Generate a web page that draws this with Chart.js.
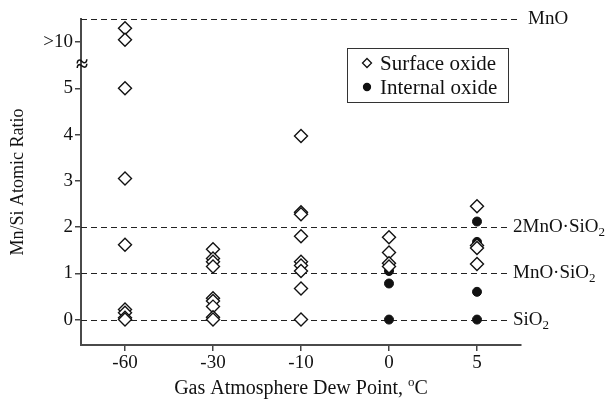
<!DOCTYPE html>
<html>
<head>
<meta charset="utf-8">
<script src="https://cdn.jsdelivr.net/npm/chart.js@4.4.0/dist/chart.umd.min.js"></script>
<style>
  html, body { margin: 0; padding: 0; background: #fff; }
  #wrap { width: 611px; height: 415px; }
</style>
</head>
<body>
<div id="wrap"><canvas id="chartCanvas"></canvas></div>
<script>
const dewPoints = ['-60', '-30', '-10', '0', '5'];

// broken y axis: 6 on the axis stands for ">10"
const surfaceDew = [
  '-60', '-60', '-60', '-60', '-60', '-60', '-60', '-60', '-60',
  '-30', '-30', '-30', '-30', '-30', '-30', '-30', '-30', '-30',
  '-10', '-10', '-10', '-10', '-10', '-10', '-10', '-10', '-10',
  '0', '0', '0', '0',
  '5', '5', '5', '5'
];
const surfaceRatio = [
  6.3, 6.05, 5.0, 3.05, 1.62, 0.22, 0.15, 0.04, 0.0,
  1.52, 1.32, 1.25, 1.15, 0.46, 0.40, 0.28, 0.05, 0.0,
  3.97, 2.32, 2.28, 1.8, 1.25, 1.17, 1.05, 0.67, 0.0,
  1.78, 1.45, 1.22, 1.15,
  2.45, 1.6, 1.55, 1.2
];

const internalDew = ['0', '0', '0', '5', '5', '5', '5'];
const internalRatio = [1.05, 0.78, 0.0, 2.12, 1.68, 0.6, 0.0];

const yTicks = [0, 1, 2, 3, 4, 5, 6];
const yTickLabels = ['0', '1', '2', '3', '4', '5', '>10'];

// reference compositions (dashed lines), 6.5 = MnO at the top of the axis
const refValues = [6.5, 2, 1, 0];
const refText = ['MnO', '2MnO\u00b7SiO', 'MnO\u00b7SiO', 'SiO'];
const refSub = ['', '2', '2', '2'];

const seriesNames = ['Surface oxide', 'Internal oxide'];

const serif = "'Liberation Serif', 'Times New Roman', serif";

function toPoints(xs, ys) {
  return xs.map((x, i) => ({ x: x, y: ys[i] }));
}

function textWithSub(ctx, main, sub, x, y, size) {
  ctx.font = size + 'px ' + serif;
  ctx.textAlign = 'left';
  ctx.textBaseline = 'middle';
  ctx.fillText(main, x, y);
  if (sub) {
    const w = ctx.measureText(main).width;
    ctx.font = Math.round(size * 0.7) + 'px ' + serif;
    ctx.fillText(sub, x + w, y + size * 0.3);
  }
}

const extras = {
  id: 'extras',
  beforeDatasetsDraw(chart) {
    const ctx = chart.ctx;
    const area = chart.chartArea;
    const y = chart.scales.y;
    ctx.save();
    ctx.strokeStyle = '#222';
    ctx.lineWidth = 1.2;
    ctx.setLineDash([6, 4]);
    refValues.forEach((v, i) => {
      const py = Math.round(y.getPixelForValue(v)) + 0.5;
      const end = i === 0 ? area.right : area.right - 11;
      ctx.beginPath();
      ctx.moveTo(area.left, py);
      ctx.lineTo(end, py);
      ctx.stroke();
    });
    ctx.restore();
  },
  afterDraw(chart) {
    const ctx = chart.ctx;
    const area = chart.chartArea;
    const y = chart.scales.y;
    ctx.save();
    ctx.fillStyle = '#111';

    // labels at the right end of the dashed lines
    refValues.forEach((v, i) => {
      const py = y.getPixelForValue(v);
      const px = i === 0 ? area.right + 7 : area.right - 8;
      textWithSub(ctx, refText[i], refSub[i], px, py, 19);
    });

    // axis break mark
    ctx.font = 'bold 22px ' + serif;
    ctx.textAlign = 'center';
    ctx.textBaseline = 'middle';
    ctx.fillText('\u2248', area.left + 1, y.getPixelForValue(5.5));

    // axis titles
    ctx.font = '18px ' + serif;
    ctx.save();
    ctx.translate(18, (area.top + area.bottom) / 2);
    ctx.rotate(-Math.PI / 2);
    ctx.textAlign = 'center';
    ctx.fillText('Mn/Si Atomic Ratio', 0, 0);
    ctx.restore();

    const xTitle = 'Gas Atmosphere Dew Point, ';
    ctx.font = '20px ' + serif;
    const w1 = ctx.measureText(xTitle).width;
    ctx.font = '13px ' + serif;
    const w2 = ctx.measureText('o').width;
    ctx.font = '20px ' + serif;
    const w3 = ctx.measureText('C').width;
    const tx = (area.left + area.right) / 2 - (w1 + w2 + w3) / 2;
    const ty = 389;
    ctx.textAlign = 'left';
    ctx.fillText(xTitle, tx, ty);
    ctx.font = '13px ' + serif;
    ctx.fillText('o', tx + w1, ty - 6);
    ctx.font = '20px ' + serif;
    ctx.fillText('C', tx + w1 + w2, ty);

    // legend box
    ctx.strokeStyle = '#333';
    ctx.lineWidth = 1;
    ctx.strokeRect(347.5, 48.5, 161, 54);
    const ds = chart.data.datasets;
    const rows = [63, 87];
    rows.forEach((ry, i) => {
      ctx.beginPath();
      if (ds[i].pointStyle === 'rectRot') {
        ctx.moveTo(367, ry - 4.5);
        ctx.lineTo(371.5, ry);
        ctx.lineTo(367, ry + 4.5);
        ctx.lineTo(362.5, ry);
        ctx.closePath();
      } else {
        ctx.arc(367, ry, 3.5, 0, Math.PI * 2);
      }
      ctx.fillStyle = ds[i].backgroundColor;
      ctx.fill();
      ctx.lineWidth = 1.3;
      ctx.strokeStyle = ds[i].borderColor;
      ctx.stroke();
      ctx.fillStyle = '#111';
      ctx.font = '21px ' + serif;
      ctx.textAlign = 'left';
      ctx.textBaseline = 'middle';
      ctx.fillText(seriesNames[i], 380, ry + 1);
    });
    ctx.restore();
  }
};

const ctx = document.getElementById('chartCanvas').getContext('2d');
new Chart(ctx, {
  type: 'scatter',
  data: {
    datasets: [
      {
        label: seriesNames[0],
        data: toPoints(surfaceDew, surfaceRatio),
        pointStyle: 'rectRot',
        pointRadius: 6.5,
        backgroundColor: '#fff',
        borderColor: '#111',
        borderWidth: 1.4
      },
      {
        label: seriesNames[1],
        data: toPoints(internalDew, internalRatio),
        pointStyle: 'circle',
        pointRadius: 4.5,
        backgroundColor: '#111',
        borderColor: '#111',
        borderWidth: 1
      }
    ]
  },
  options: {
    responsive: true,
    maintainAspectRatio: false,
    animation: false,
    layout: { padding: { top: 19, right: 90, left: 0, bottom: 0 } },
    plugins: {
      legend: { display: false },
      tooltip: { enabled: false }
    },
    scales: {
      x: {
        type: 'category',
        labels: dewPoints,
        offset: true,
        grid: { display: true, drawOnChartArea: false, offset: false, tickLength: 6, color: '#444', lineWidth: 1.5 },
        border: { color: '#4a4a4a', width: 2 },
        ticks: { font: { family: serif, size: 19 }, color: '#111', padding: 1 },
        afterFit(scale) { scale.height = 70; }
      },
      y: {
        min: -0.55,
        max: 6.5,
        afterBuildTicks(scale) {
          scale.ticks = yTicks.map(v => ({ value: v }));
        },
        grid: { display: true, drawOnChartArea: false, tickLength: 6, color: '#444', lineWidth: 1.5 },
        border: { color: '#4a4a4a', width: 2 },
        ticks: {
          font: { family: serif, size: 19 },
          color: '#111',
          padding: 2,
          callback: (v) => yTickLabels[yTicks.indexOf(v)]
        },
        afterFit(scale) { scale.width = 81; }
      }
    }
  },
  plugins: [extras]
});
</script>
</body>
</html>
